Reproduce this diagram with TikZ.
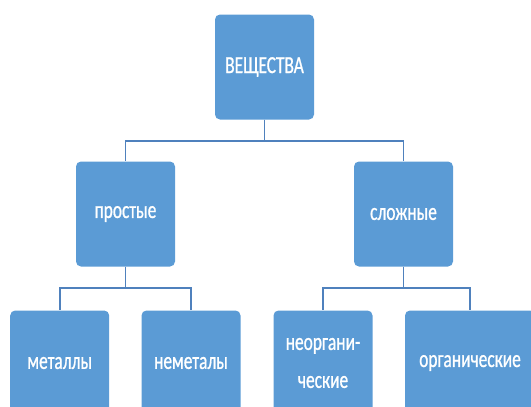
\documentclass[tikz,border=0pt]{standalone}
\usepackage{fontspec}
\newfontfamily\boxfont[FakeStretch=0.71, FakeBold=0.8]{Carlito}
\definecolor{boxblue}{HTML}{5B9BD5}
\definecolor{lineblue}{HTML}{4F81BD}
\tikzset{
  box/.style={fill=boxblue, draw=none, rounded corners=5pt, minimum width=99pt,
    minimum height=105pt, inner sep=0pt, align=center, text=white,
    font=\boxfont\fontsize{24.5}{38}\selectfont},
  link/.style={draw=lineblue, line width=1.6pt}
}

\begin{document}
\begin{tikzpicture}[x=1pt, y=-1pt]
\useasboundingbox (0,0) rectangle (531,407);
\clip (0,0) rectangle (531,407);
% top level
\node[box] (veshch) at (264.5, 67) {ВЕЩЕСТВА};
% second level
\node[box] (prostye) at (125.5, 214) {простые};
\node[box] (slozhnye) at (403.5, 214) {сложные};
% third level
\node[box] (metally) at (59.7, 363) {металлы};
\node[box] (nemetaly) at (191, 363) {неметалы};
\node[box] (neorg) at (323, 363) {неоргани-\\ческие};
\node[box, minimum width=130pt] (organ) at (470, 363) {органические};
% connectors
\draw[link] (veshch.south) -- ++(0,21) -| (prostye.north);
\draw[link] (veshch.south) -- ++(0,21) -| (slozhnye.north);
\draw[link] (prostye.south) -- ++(0,21) -| (metally.north);
\draw[link] (prostye.south) -- ++(0,21) -| (nemetaly.north);
\draw[link] (slozhnye.south) -- ++(0,21) -| (neorg.north);
\draw[link] (slozhnye.south) -- ++(0,21) -| (organ.north);
\end{tikzpicture}
\end{document}
